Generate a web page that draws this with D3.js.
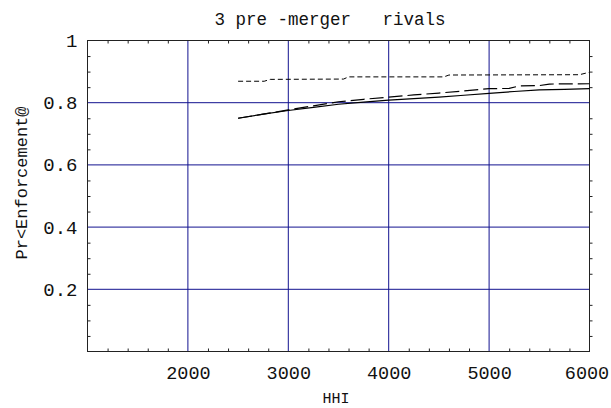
<!DOCTYPE html>
<html><head><meta charset="utf-8">
<script src="https://cdn.jsdelivr.net/npm/d3@7"></script>
<style>body{margin:0;background:#fff}svg{display:block}</style>
</head><body>
<svg id="c" width="611" height="408"></svg>
<script>
// ---- data ----
const titleText = "3 pre -merger   rivals";
const xLabel = "HHI";
const yLabel = "Pr<Enforcement@";
const xTicks = [2000, 3000, 4000, 5000, 6000];
const yTicks = [0.2, 0.4, 0.6, 0.8, 1];
const xGrid = [2000, 3000, 4000, 5000];
const yGrid = [0.2, 0.4, 0.6, 0.8];

const solidHHI = [2500, 2750, 3000, 3250, 3500, 3750, 4000, 4250, 4500, 4750, 5000, 5250, 5500, 5750, 6000];
const solidPr  = [0.750, 0.763, 0.775, 0.785, 0.795, 0.802, 0.808, 0.813, 0.818, 0.824, 0.830, 0.836, 0.841, 0.843, 0.845];

const longHHI = [2500, 2750, 3000, 3250, 3500, 3750, 4000, 4250, 4500, 4750, 5000, 5200, 5300, 5500, 5600, 6000];
const longPr  = [0.750, 0.763, 0.777, 0.790, 0.803, 0.811, 0.818, 0.825, 0.831, 0.838, 0.845, 0.846, 0.854, 0.855, 0.860, 0.861];

const shortHHI = [2500, 2760, 2820, 3550, 3600, 4550, 4600, 5900, 6000];
const shortPr  = [0.869, 0.869, 0.875, 0.876, 0.883, 0.883, 0.889, 0.890, 0.898];

// ---- chart ----
const svg = d3.select("#c");
const L = 87.5, R = 589.5, T = 40.5, B = 351.5;
const x = d3.scaleLinear().domain([1000, 6000]).range([L, R]);
const y = d3.scaleLinear().domain([0, 1]).range([B, T]);
const FONT = "'Liberation Mono', 'Courier New', monospace";
const gridColor = "#12128f";

// grid
svg.append("g").selectAll("line").data(xGrid).join("line")
  .attr("x1", d => x(d)).attr("x2", d => x(d)).attr("y1", T).attr("y2", B)
  .attr("stroke", gridColor).attr("stroke-width", 1);
svg.append("g").selectAll("line").data(yGrid).join("line")
  .attr("x1", L).attr("x2", R).attr("y1", d => y(d)).attr("y2", d => y(d))
  .attr("stroke", gridColor).attr("stroke-width", 1);

// minor ticks
const xMinor = d3.range(1200, 6000, 200).filter(v => v % 1000 !== 0);
const yMinor = d3.range(0.05, 1.0, 0.05).map(v => +v.toFixed(2)).filter(v => Math.abs(v*5 - Math.round(v*5)) > 1e-6);

function styleAxis(g) {
  g.select(".domain").remove();
  g.selectAll(".tick line").attr("stroke", "#222").attr("stroke-width", 1);
}
svg.append("g").attr("transform", `translate(0,${B})`)
  .call(d3.axisBottom(x).tickValues(xMinor).tickSize(-3).tickFormat(""))
  .call(styleAxis);
svg.append("g").attr("transform", `translate(0,${T})`)
  .call(d3.axisTop(x).tickValues(xMinor).tickSize(-3).tickFormat(""))
  .call(styleAxis);
svg.append("g").attr("transform", `translate(${L},0)`)
  .call(d3.axisLeft(y).tickValues(yMinor).tickSize(-3).tickFormat(""))
  .call(styleAxis);
svg.append("g").attr("transform", `translate(${R},0)`)
  .call(d3.axisRight(y).tickValues(yMinor).tickSize(3).tickFormat(""))
  .call(styleAxis);

// tick labels
const xa = svg.append("g").attr("transform", `translate(0,${B})`)
  .call(d3.axisBottom(x).tickValues(xTicks).tickSize(0).tickPadding(14).tickFormat(d3.format("d")));
xa.select(".domain").remove();
xa.selectAll("text").attr("font-family", FONT).attr("font-size", 18.5).attr("fill", "#111")
  .attr("dx", d => d === 6000 ? -3 : 0);

const ya = svg.append("g").attr("transform", `translate(${L},0)`)
  .call(d3.axisLeft(y).tickValues(yTicks).tickSize(0).tickPadding(10).tickFormat(d => d === 1 ? "1" : d3.format(".1f")(d)));
ya.select(".domain").remove();
ya.selectAll("text").attr("font-family", FONT).attr("font-size", 19).attr("fill", "#111");

// frame
svg.append("rect").attr("x", L).attr("y", T).attr("width", R - L).attr("height", B - T)
  .attr("fill", "none").attr("stroke", "#222").attr("stroke-width", 1);

// lines
const line = d3.line().x(d => x(d[0])).y(d => y(d[1]));
const series = [
  {hhi: solidHHI, pr: solidPr, dash: null, w: 1.2},
  {hhi: longHHI, pr: longPr, dash: "14,5", w: 1.2},
  {hhi: shortHHI, pr: shortPr, dash: "5,3", w: 1}
];
series.forEach(s => {
  svg.append("path").datum(d3.zip(s.hhi, s.pr)).attr("d", line)
    .attr("fill", "none").attr("stroke", "#000").attr("stroke-width", s.w)
    .attr("stroke-dasharray", s.dash);
});

// titles
svg.append("text").attr("x", 330).attr("y", 25).attr("text-anchor", "middle")
  .attr("font-family", FONT).attr("font-size", 17.5).attr("fill", "#111")
  .attr("xml:space", "preserve").style("white-space", "pre").text(titleText);
svg.append("text").attr("x", 336).attr("y", 403).attr("text-anchor", "middle")
  .attr("font-family", FONT).attr("font-size", 15).attr("fill", "#111").text(xLabel);
svg.append("text").attr("transform", "translate(27,183) rotate(-90)").attr("text-anchor", "middle")
  .attr("font-family", FONT).attr("font-size", 17).attr("fill", "#111").text(yLabel);
</script>
</body></html>
